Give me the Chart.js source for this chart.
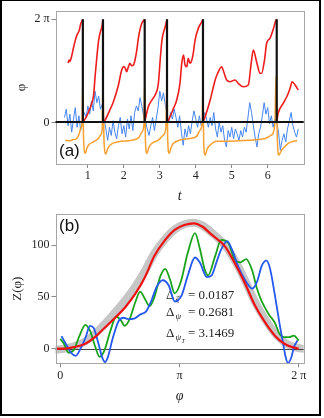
<!DOCTYPE html>
<html>
<head>
<meta charset="utf-8">
<script src="https://cdn.jsdelivr.net/npm/chart.js@4.4.1/dist/chart.umd.min.js"></script>
<style>
  body { margin: 0; background: #fff; }
  #wrap { position: relative; width: 324px; height: 418px; }
  canvas { position: absolute; left: 0; }
  #frame { position: absolute; left: 0; top: 0; width: 321px; height: 416px; box-sizing: border-box;
           border: 2px solid #000; border-top-width: 1.5px; pointer-events: none; z-index: 5; }
</style>
</head>
<body>
<div id="wrap">
  <canvas id="ca" width="324" height="205" style="top:0"></canvas>
  <canvas id="cb" width="324" height="213" style="top:205px"></canvas>
  <div id="frame"></div>
</div>
<script>
const TWO_PI = 2 * Math.PI;

// ---- panel (a): phase vs time ----
const resetTimes = [0.86, 1.42, 2.58, 3.20, 4.20, 6.25];

// red phase, null = break at a reset
const redT = [0.45,0.48,0.50,0.55,0.60,0.65,0.70,0.76,0.80,0.86, 0.86,
  0.86,0.95,1.02,1.10,1.16,1.20,1.25,1.30,1.35,1.39,1.42, 1.42,
  1.42,1.48,1.60,1.71,1.85,1.94,2.00,2.04,2.08,2.12,2.17,2.22,2.27,2.31,2.36,2.41,2.50,2.58, 2.58,
  2.58,2.68,2.78,2.87,2.96,3.01,3.06,3.15,3.20, 3.20,
  3.20,3.24,3.38,3.47,3.56,3.61,3.66,3.70,3.75,3.79,3.84,3.89,3.93,3.98,4.07,4.17,4.20, 4.20,
  4.20,4.26,4.40,4.49,4.54,4.60,4.72,4.76,4.86,4.95,5.09,5.18,5.32,5.46,5.54,5.60,5.69,5.79,5.83,5.91,5.97,6.06,6.16,6.23,6.25, 6.25,
  6.25,6.29,6.43,6.53,6.62,6.68,6.76,6.85];
const redPhi = [3.62,3.80,3.72,4.05,4.55,5.00,5.35,5.60,6.00,6.283, null,
  0,0.30,0.65,1.10,1.67,2.78,4.00,5.02,5.55,5.83,6.283, null,
  0,0.14,0.70,1.26,2.28,3.19,3.40,3.29,3.09,3.35,3.60,3.45,3.50,3.80,4.40,5.22,6.04,6.283, null,
  0,0.95,1.36,1.67,2.38,3.80,5.02,5.83,6.283, null,
  0,0.14,0.85,1.36,2.38,3.60,4.10,3.50,3.39,3.90,3.60,3.80,4.21,5.02,5.73,6.14,6.283, null,
  0,0.34,1.36,2.17,2.60,2.95,3.39,3.19,2.58,2.48,2.58,2.38,2.17,2.28,3.60,4.41,3.70,2.99,2.99,3.80,4.82,5.12,5.73,6.24,6.283, null,
  0,0.55,1.16,1.56,2.07,2.48,2.28,1.97];

// blue noisy signal, sampled every 0.05 from t = 0.35
const blueStart = 0.35, blueStep = 0.05;
const blueVals = [
  0.3, 0.8, -0.2, 0.5, -0.6, 0.2, 0.9, -0.3, 0.4, -0.5, 0.1,
  0.6, 0.3, 1.0, 0.5, 1.3, 0.7, 1.9, 1.2, 1.6, 0.8, 1.1,
  0.2, -0.4, -1.1, -0.3, -0.8, 0.1, -0.6, -1.0, -0.2, 0.3, -0.7,
  -0.2, -0.9, 0.2, -0.4, 0.4, -0.5, 0.6, 1.0, 0.7, 1.5, 1.0,
  0.4, 0.1, -0.4, -0.8, -0.2, 0.3, -0.5, 0.2, 0.9, 1.9, 1.3,
  1.8, 1.1, 0.5, 0.0, 0.6, 0.2, 0.8, 0.3, -0.3, 0.4, -0.6,
  -1.4, -0.4, -0.9, -0.2, -0.7, 0.1, 0.7, 0.2, -0.3, 0.4, -0.2,
  0.1, 0.6, 0.2, -0.3, 0.3, -0.2, 0.6, -0.4, -0.9, 0.0, -0.6,
  -0.2, -1.1, -1.5, -0.5, -0.9, -0.3, -1.0, -0.4, -0.7, -1.1, -0.5,
  -0.9, -0.3, -0.6, 0.3, 1.2, 0.6, -0.2, -0.9, -1.5, -0.7, -0.3,
  0.4, 1.2, 0.5, 0.9, -0.1, 0.4, -0.3, 0.2, 0.0, -0.6, -1.7,
  -1.1, -0.7, -1.2, -0.4, 0.1, 0.6, -0.2, -0.6, -0.9, -0.4];

// orange spiky signal
const orangeT = [0.37,0.50,0.60,0.69,0.76,0.80,0.84,0.86,0.88,0.93,0.97,1.02,1.16,1.29,1.36,1.40,1.42,1.45,1.50,1.55,1.62,1.85,2.13,2.41,2.50,2.56,2.58,2.60,2.64,2.70,2.78,2.96,3.10,3.17,3.20,3.22,3.26,3.32,3.38,3.56,3.84,4.03,4.12,4.18,4.20,4.22,4.26,4.32,4.40,4.58,4.80,5.20,5.60,5.93,6.11,6.20,6.23,6.27,6.31,6.37,6.43,6.57,6.76,6.82];
const orangeV = [-1.10,-1.12,-1.05,-0.98,-0.70,-0.37,0.0,2.6,-1.0,-1.89,-1.60,-1.38,-1.18,-0.98,-0.75,-0.40,2.6,-1.2,-1.93,-1.60,-1.38,-1.18,-1.12,-0.95,-0.60,-0.10,2.6,-1.1,-1.89,-1.50,-1.28,-1.08,-0.77,-0.30,2.6,-1.1,-1.89,-1.50,-1.28,-1.08,-0.98,-0.84,-0.47,0.0,2.6,-1.2,-2.0,-1.60,-1.38,-1.15,-1.15,-1.12,-1.08,-0.98,-0.77,-0.06,2.8,-1.2,-2.0,-1.75,-1.59,-1.28,-1.14,-1.12];

// ---- panel (b): Z(phi), phi in units of pi ----
const grayPhi = [-0.03,0.04,0.12,0.21,0.29,0.375,0.46,0.54,0.63,0.71,0.79,0.88,0.96,1.04,1.12,1.19,1.27,1.38,1.46,1.55,1.63,1.71,1.80,1.88,1.96,2.03];
const grayZ   = [-1,0,2.5,7,14,24,35,46,60,75,92,106,115,120,121.5,119,112,100,86,66,46,30,15,6,1.5,0];
const redPhiB = [-0.03,0.04,0.12,0.21,0.29,0.375,0.46,0.54,0.63,0.71,0.79,0.88,0.96,1.04,1.12,1.19,1.27,1.38,1.46,1.55,1.63,1.71,1.80,1.88,1.96,2.00];
const redZ    = [0,0,1.5,4.7,11,20.4,29.8,39.2,53,69,89.6,105,114.7,119.4,121,117.9,110,99,83.3,62.8,42.4,26.7,12.5,4.7,0.9,0];
const greenPhi = [0.00,0.03,0.07,0.11,0.16,0.21,0.25,0.29,0.33,0.37,0.42,0.47,0.51,0.54,0.58,0.63,0.67,0.71,0.75,0.79,0.84,0.88,0.92,0.96,1.01,1.07,1.13,1.17,1.21,1.24,1.30,1.35,1.41,1.46,1.51,1.56,1.61,1.65,1.69,1.75,1.80,1.84,1.88,1.92,1.96,2.00];
const greenZ   = [9.4,5,-4,-2,12,23,17,3,-7.9,-2,17,31,27,22,28,45,55,48,41,50,70,77,67,53.4,64,92.7,111.6,97,77,70.7,89.6,105,102,86.4,83.3,86.4,75.4,58,45.5,33,25,14,11,11,12.5,7.8];
const bluePhi = [0.01,0.05,0.09,0.13,0.17,0.21,0.25,0.28,0.32,0.35,0.375,0.40,0.44,0.49,0.53,0.57,0.62,0.67,0.72,0.76,0.81,0.86,0.91,0.96,1.02,1.07,1.13,1.17,1.23,1.27,1.31,1.35,1.40,1.44,1.49,1.56,1.61,1.65,1.69,1.73,1.76,1.80,1.84,1.87,1.89,1.91,1.94,1.96,1.99];
const blueZ   = [12,4,-4,-7,0,10,22,20,5,-8,-13,-8,10,26.7,29.8,28.5,29,33,36,45,60,66,61,45.5,51.9,70.7,88,83.3,69,70.7,83.3,95.8,103.7,95.8,80,64.4,58,64.4,80,84.9,77,51.9,23.6,4.7,-7.9,-14,-7.9,1.5,7.8];

const deltaRows = [
  { sub: 'ζ', subsub: '', value: '0.0187' },
  { sub: 'ψ', subsub: '', value: '0.2681' },
  { sub: 'ψ', subsub: 'T', value: '3.1469' }
];

const zip = (xs, ys) => xs.map((x, i) => ({ x, y: ys[i] }));
const SERIF = "'Liberation Serif', 'DejaVu Serif', serif";
const SANS = "'Liberation Sans', Arial, sans-serif";
const tickFont = { family: SERIF, size: 12 };
const ink = '#222';

Chart.defaults.font.family = SERIF;
Chart.defaults.animation = false;

// gray frame around the plot area
const boxPlugin = {
  id: 'box',
  afterDatasetsDraw(chart) {
    const { ctx, chartArea: a } = chart;
    ctx.save();
    ctx.strokeStyle = '#a6a6a6';
    ctx.lineWidth = 1;
    ctx.strokeRect(Math.round(a.left) + 0.5, Math.round(a.top) + 0.5,
      Math.round(a.right - a.left), Math.round(a.bottom - a.top));
    ctx.restore();
  }
};

function axisX(min, max, ticks, label, h, titlePad, fmt) {
  return {
    type: 'linear', min, max,
    afterBuildTicks: s => { s.ticks = ticks.map(v => ({ value: v })); },
    afterFit: s => { s.height = h; },
    grid: { drawOnChartArea: false, drawTicks: true, tickLength: 4, color: '#888' },
    border: { display: false },
    ticks: { font: tickFont, color: ink, padding: 1, maxRotation: 0, autoSkip: false, callback: fmt },
    title: { display: true, text: label, color: ink, font: { family: SERIF, size: 14, style: 'italic' },
             padding: { top: 0, bottom: titlePad } }
  };
}
function axisY(min, max, ticks, label, titlePad, fmt) {
  return {
    min, max,
    afterBuildTicks: s => { s.ticks = ticks.map(v => ({ value: v })); },
    afterFit: s => { s.width = 55.5; },
    grid: { drawOnChartArea: false, drawTicks: true, tickLength: 4, color: '#888' },
    border: { display: false },
    ticks: { font: tickFont, color: ink, padding: 2, autoSkip: false, callback: fmt },
    title: { display: true, text: label, color: ink, font: { family: SERIF, size: 13 },
             padding: { top: titlePad, bottom: 0 } }
  };
}

// ---------- chart (a) ----------
const resetLines = resetTimes.flatMap(t => [{ x: t, y: 0 }, { x: t, y: TWO_PI }, { x: t, y: null }]);
const blueData = blueVals.map((v, i) => ({ x: blueStart + i * blueStep, y: v }));

const labelA = {
  id: 'labelA',
  afterDatasetsDraw(chart) {
    const { ctx, chartArea: a, scales } = chart;
    const y0 = Math.round(scales.y.getPixelForValue(0));
    ctx.save();
    ctx.strokeStyle = '#111';
    ctx.lineWidth = 2;
    ctx.beginPath();
    ctx.moveTo(a.left, y0);
    ctx.lineTo(a.right, y0);
    ctx.stroke();
    ctx.fillStyle = '#111';
    ctx.font = '17px ' + SANS;
    ctx.textBaseline = 'middle';
    ctx.fillText('(a)', 59, 151);
    ctx.restore();
  }
};

new Chart(document.getElementById('ca'), {
  type: 'line',
  data: {
    datasets: [
      { data: resetLines, borderColor: '#111', borderWidth: 2.2, tension: 0 },
      { data: zip(redT, redPhi), borderColor: '#ee1c1c', borderWidth: 1.6, cubicInterpolationMode: 'monotone' },
      { data: zip(orangeT, orangeV), borderColor: '#f7a030', borderWidth: 1.5, cubicInterpolationMode: 'monotone' },
      { data: blueData, borderColor: '#4585f0', borderWidth: 1, tension: 0 }
    ]
  },
  options: {
    responsive: false,
    devicePixelRatio: 1,
    spanGaps: false,
    elements: { point: { radius: 0 } },
    layout: { padding: { left: 0, right: 20.3, top: 11, bottom: 0 } },
    plugins: { legend: { display: false }, tooltip: { enabled: false } },
    scales: {
      x: axisX(0.1, 7.0, [1, 2, 3, 4, 5, 6], 't', 41, 0, v => String(v)),
      y: axisY(-2.54, 6.79, [0, TWO_PI], 'φ', 14, v => (v === 0 ? '0' : '2 π'))
    }
  },
  plugins: [boxPlugin, labelA]
});

// ---------- chart (b) ----------
const GRAY_INDEX = 3;
const labelB = {
  id: 'labelB',
  beforeDatasetsDraw(chart) {
    const { ctx } = chart;
    ctx.save();
    ctx.fillStyle = ink;
    ctx.textBaseline = 'middle';
    const rowsY = [91, 108, 129];
    deltaRows.forEach((r, i) => {
      const y = rowsY[i];
      ctx.font = '13px ' + SERIF;
      ctx.fillText('Δ', 166, y);
      ctx.font = 'italic 9px ' + SERIF;
      ctx.fillText(r.sub, 175.5, y + 4);
      if (r.subsub) {
        ctx.font = 'italic 6px ' + SERIF;
        ctx.fillText(r.subsub, 181.5, y + 7);
      }
      ctx.font = '13px ' + SERIF;
      ctx.fillText('= ' + r.value, 188, y);
    });
    ctx.restore();
  },
  afterDatasetDraw(chart, args) {
    if (args.index !== GRAY_INDEX) return;
    const { ctx, chartArea: a, scales } = chart;
    const y0 = Math.round(scales.y.getPixelForValue(0)) + 0.5;
    ctx.save();
    ctx.strokeStyle = '#444';
    ctx.lineWidth = 1;
    ctx.beginPath();
    ctx.moveTo(a.left, y0);
    ctx.lineTo(a.right, y0);
    ctx.stroke();
    ctx.restore();
  },
  afterDatasetsDraw(chart) {
    const { ctx } = chart;
    ctx.save();
    ctx.fillStyle = '#111';
    ctx.font = '17px ' + SANS;
    ctx.textBaseline = 'middle';
    ctx.fillText('(b)', 59, 21);
    ctx.restore();
  }
};

const piLabel = v => (v === 0 ? '0' : v === 1 ? 'π' : '2 π');

new Chart(document.getElementById('cb'), {
  type: 'line',
  data: {
    datasets: [
      { data: zip(redPhiB, redZ), borderColor: '#ee1111', borderWidth: 2.2, cubicInterpolationMode: 'monotone' },
      { data: zip(bluePhi, blueZ), borderColor: '#2458ee', borderWidth: 1.8, cubicInterpolationMode: 'monotone' },
      { data: zip(greenPhi, greenZ), borderColor: '#1aa31a', borderWidth: 1.8, cubicInterpolationMode: 'monotone' },
      { data: zip(grayPhi, grayZ), borderColor: '#c6c6c6', borderWidth: 8, borderCapStyle: 'round', cubicInterpolationMode: 'monotone' }
    ]
  },
  options: {
    responsive: false,
    devicePixelRatio: 1,
    elements: { point: { radius: 0 } },
    layout: { padding: { left: 0, right: 20.3, top: 5.7, bottom: 0 } },
    plugins: { legend: { display: false }, tooltip: { enabled: false } },
    scales: {
      x: axisX(-0.04, 2.042, [0, 1, 2], 'φ', 54.7, 13, piLabel),
      y: axisY(-14.2, 129.8, [0, 50, 100], 'Z(φ)', 10, v => String(v))
    }
  },
  plugins: [boxPlugin, labelB]
});
</script>
</body>
</html>
